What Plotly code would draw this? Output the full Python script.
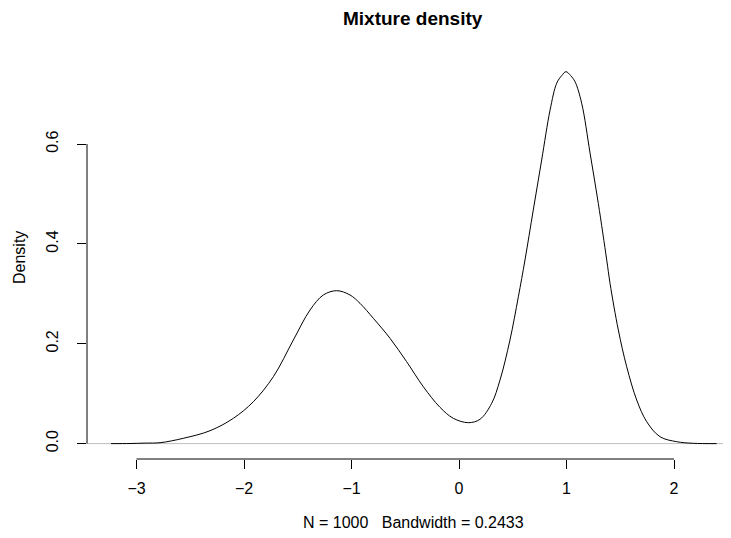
import plotly.graph_objects as go

# Density curve
density_x = [-3.237, -3.06, -2.92, -2.781, -2.565, -2.316, -2.099, -1.913, -1.727,
             -1.541, -1.386, -1.262, -1.138, -1.014, -0.921, -0.797, -0.642, -0.487,
             -0.332, -0.177, -0.053, 0.0865, 0.195, 0.304, 0.381, 0.474, 0.552,
             0.614, 0.691, 0.769, 0.847, 0.909, 0.955, 0.995, 1.039, 1.079, 1.141,
             1.219, 1.296, 1.374, 1.405, 1.482, 1.560, 1.653, 1.746, 1.870, 2.025,
             2.180, 2.397]
density_y = [0.0, 0.0002, 0.001, 0.0018, 0.0106, 0.0258, 0.0507, 0.0839, 0.134,
             0.2075, 0.2676, 0.2977, 0.3063, 0.2977, 0.281, 0.251, 0.211, 0.164,
             0.114, 0.0727, 0.0507, 0.0419, 0.0487, 0.0807, 0.127, 0.2075, 0.294,
             0.368, 0.468, 0.568, 0.668, 0.722, 0.737, 0.745, 0.737, 0.725, 0.682,
             0.582, 0.481, 0.368, 0.321, 0.2276, 0.154, 0.0873, 0.0439, 0.0138, 0.0038,
             0.0006, 0.0]

x_ticks = [-3, -2, -1, 0, 1, 2]
x_tick_labels = ["\u22123", "\u22122", "\u22121", "0", "1", "2"]
y_ticks = [0.0, 0.2, 0.4, 0.6]
y_tick_labels = ["0.0", "0.2", "0.4", "0.6"]

title_text = "Mixture density"
x_title = "N = 1000\u00a0\u00a0\u00a0Bandwidth = 0.2433"
y_title = "Density"

# page body has an 8px margin, so the figure is drawn at (8, 8)
OFF = 8
W, H = 731 - OFF, 538 - OFF
L, R, T, B = 87 - OFF, 0, 57 - OFF, 538 - 459
FONT = "Liberation Sans, Arial, Helvetica, sans-serif"
PW = W - L - R
CX = (413.4 - 87) / PW

fig = go.Figure()
fig.add_trace(go.Scatter(
    x=density_x, y=density_y, mode="lines",
    line=dict(color="black", width=1, shape="spline", smoothing=1.0),
    hoverinfo="skip", showlegend=False))

fig.update_layout(
    width=W, height=H,
    margin=dict(l=L, r=R, t=T, b=B, pad=0),
    paper_bgcolor="white", plot_bgcolor="white",
    font=dict(family=FONT, size=16, color="black"),
    showlegend=False,
    xaxis=dict(range=[-3.4605, 2.5302], tickvals=x_ticks, ticktext=x_tick_labels,
               ticks="outside", ticklen=9, tickwidth=1, tickcolor="black",
               showline=False, showgrid=False, zeroline=False,
               ticklabelstandoff=6, automargin=False),
    yaxis=dict(range=[-0.03085, 0.7744], tickvals=y_ticks, ticktext=y_tick_labels,
               ticks="outside", ticklen=9, tickwidth=1, tickcolor="black",
               tickangle=-90, showline=False, showgrid=False, zeroline=False,
               ticklabelstandoff=13, automargin=False),
    shapes=[
        dict(type="line", xref="paper", yref="y", x0=0, x1=1, y0=0, y1=0,
             line=dict(color="#BEBEBE", width=1), layer="below"),
        dict(type="line", xref="x", yref="paper", x0=x_ticks[0], x1=x_ticks[-1],
             y0=0, y1=0, line=dict(color="black", width=1)),
        dict(type="line", xref="paper", yref="y", x0=0, x1=0,
             y0=y_ticks[0], y1=y_ticks[-1], line=dict(color="black", width=1)),
    ],
    annotations=[
        dict(text="<b>" + title_text + "</b>", xref="paper", yref="paper",
             x=CX, y=1, yshift=(57 - 18), xanchor="center",
             yanchor="middle", showarrow=False, font=dict(size=19)),
        dict(text=x_title, xref="paper", yref="paper",
             x=CX, y=0, yshift=-(522 - 459),
             xanchor="center", yanchor="middle", showarrow=False, font=dict(size=16)),
        dict(text=y_title, xref="paper", yref="paper", x=0, y=0.5,
             xshift=-(87 - 19), xanchor="center", yanchor="middle",
             textangle=-90, showarrow=False, font=dict(size=16)),
    ],
)

fig.write_html("out.html")
